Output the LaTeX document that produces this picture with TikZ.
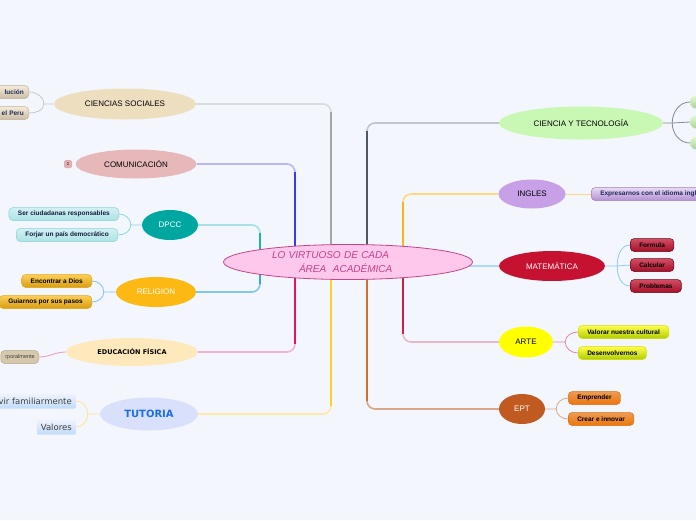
\documentclass[tikz,border=0pt]{standalone}
\usepackage{fontspec}
\setmainfont{Liberation Sans}
\newfontfamily\verdanaish{DejaVu Sans}
\usetikzlibrary{shapes.geometric,calc}

\definecolor{paper}{HTML}{F3F6FD}
\definecolor{hubfill}{HTML}{FDC8EC}
\definecolor{hubline}{HTML}{C0468C}
\definecolor{hubtext}{HTML}{C4408C}
\definecolor{csfill}{HTML}{EEDEC0}
\definecolor{cshi}{HTML}{A0A6A0}
\definecolor{cslo}{HTML}{D8DCDE}
\definecolor{comfill}{HTML}{E6B8BA}
\definecolor{comhi}{HTML}{3A3AF0}
\definecolor{comlo}{HTML}{B8B8F8}
\definecolor{dpccfill}{HTML}{00A6A0}
\definecolor{dpcchi}{HTML}{20B0B0}
\definecolor{dpcclo}{HTML}{A8E0E8}
\definecolor{relfill}{HTML}{FDB913}
\definecolor{relhi}{HTML}{30A8E8}
\definecolor{rello}{HTML}{80C6F0}
\definecolor{effill}{HTML}{FFE9BC}
\definecolor{efhi}{HTML}{E0185A}
\definecolor{eflo}{HTML}{F4B4D0}
\definecolor{tutfill}{HTML}{D8E0FC}
\definecolor{tuttext}{HTML}{1C6EE8}
\definecolor{tuthi}{HTML}{FFD020}
\definecolor{tutlo}{HTML}{FFE8A8}
\definecolor{ctfill}{HTML}{C8F8B4}
\definecolor{cthi}{HTML}{505860}
\definecolor{ctlo}{HTML}{C0C4CC}
\definecolor{ingfill}{HTML}{C8A0E8}
\definecolor{inghi}{HTML}{FFB020}
\definecolor{inglo}{HTML}{FFD880}
\definecolor{matfill}{HTML}{C41230}
\definecolor{matlo}{HTML}{B0D8F8}
\definecolor{artefill}{HTML}{FFFF00}
\definecolor{artehi}{HTML}{D02040}
\definecolor{artelo}{HTML}{E8B8C8}
\definecolor{eptfill}{HTML}{C05A20}
\definecolor{epthi}{HTML}{D07030}
\definecolor{eptlo}{HTML}{D8A888}
\definecolor{navy}{HTML}{1C2A5A}
\definecolor{badge}{HTML}{E0AEB2}

\pgfdeclarelayer{ground}
\pgfdeclarelayer{links}
\pgfsetlayers{ground,links,main}

\begin{document}
\begin{tikzpicture}[x=1pt, y=-1pt,
  topic/.style={ellipse, inner sep=0pt, font=\fontsize{8}{9}\selectfont},
  leaf/.style={rounded corners=4pt, minimum height=13pt, inner xsep=9pt, inner ysep=0pt, line width=0.5pt, font=\bfseries\fontsize{6.5}{7.5}\selectfont},
  link/.style={line width=1.6pt, rounded corners=8pt},
  twig/.style={line width=0.8pt}]
\begin{pgfonlayer}{ground}
  \fill[paper] (0,0) rectangle (696,520);
\end{pgfonlayer}
\useasboundingbox (0,0) rectangle (696,520);

% centre
\node[ellipse, draw=hubline, line width=0.8pt, fill=hubfill, minimum width=249pt, minimum height=35pt, inner sep=0pt,
  text width=152pt, align=left, text=hubtext, font=\itshape\fontsize{10}{13.5}\selectfont] (hub) at (348,262)
  {LO VIRTUOSO DE CADA\\\hspace*{27pt}ÁREA\ \ ACADÉMICA};

% left topics
\node[topic, fill=csfill, minimum width=142pt, minimum height=31pt] (cs) at (125,104) {CIENCIAS SOCIALES};
\node[topic, fill=comfill, minimum width=121pt, minimum height=29pt] (com) at (136,164) {COMUNICACIÓN};
\node[topic, fill=dpccfill, text=white, minimum width=56pt, minimum height=30pt] (dpcc) at (170,225) {DPCC};
\node[topic, fill=relfill, text=white, minimum width=80pt, minimum height=30pt] (rel) at (156,292) {RELIGION};
\node[topic, fill=effill, minimum width=132pt, minimum height=28pt, font=\verdanaish\bfseries\fontsize{6.5}{8}\selectfont] (ef) at (132,352) {EDUCACIÓN FÍSICA};
\node[topic, fill=tutfill, text=tuttext, minimum width=98pt, minimum height=33pt, font=\verdanaish\bfseries\fontsize{10}{12}\selectfont] (tut) at (149,414) {TUTORIA};

% right topics
\node[topic, fill=ctfill, minimum width=164pt, minimum height=33pt] (ct) at (581,123) {CIENCIA Y TECNOLOGÍA};
\node[topic, fill=ingfill, minimum width=67pt, minimum height=29pt] (ing) at (532,194) {INGLES};
\node[topic, fill=matfill, text=white, minimum width=106pt, minimum height=30pt] (mat) at (552,266) {MATEMÁTICA};
\node[topic, fill=artefill, minimum width=54pt, minimum height=31pt] (arte) at (526,342) {ARTE};
\node[topic, fill=eptfill, text=white, minimum width=46pt, minimum height=30pt] (ept) at (522,409) {EPT};

% left leaves
\node[leaf, top color=csfill!60!white, bottom color=csfill!85!black, draw=csfill!80!black, text=navy, anchor=east, text width=36pt, inner xsep=5pt, align=right] (cs1) at (29,92) {lución};
\node[leaf, top color=csfill!60!white, bottom color=csfill!85!black, draw=csfill!80!black, text=navy, anchor=east, text width=36pt, inner xsep=5pt, align=right] (cs2) at (29,113) {el Peru};
\node[fill=badge, rounded corners=1.5pt, inner sep=0pt, minimum width=8pt, minimum height=8pt, font=\fontsize{4}{4}\selectfont] (badge) at (68,164) {2};
\node[leaf, top color=dpcclo!50!white, bottom color=dpcclo!70!dpccfill!60, draw=dpcclo!80!dpccfill, text=navy!70!black, anchor=east] (dp1) at (119,214) {Ser ciudadanas responsables};
\node[leaf, top color=dpcclo!50!white, bottom color=dpcclo!70!dpccfill!60, draw=dpcclo!80!dpccfill, text=navy!70!black, anchor=east] (dp2) at (118,235) {Forjar un país democrático};
\node[leaf, top color=relfill!70!white, bottom color=relfill!85!black, draw=relfill!90!black, anchor=east] (re1) at (92,281) {Encontrar a Dios};
\node[leaf, top color=relfill!70!white, bottom color=relfill!85!black, draw=relfill!90!black, anchor=east] (re2) at (92,302) {Guiarnos por sus pasos};
\node[leaf, fill=csfill!90!black, draw=csfill!75!black, anchor=east, text width=30pt, align=right, inner xsep=4pt, text=black!75, font=\fontsize{5.5}{6}\selectfont] (ef1) at (39,357) {rporalmente};
\node[leaf, rounded corners=1pt, top color=tutfill!40!white, bottom color=matlo!60!tutfill, minimum height=15pt, inner xsep=4pt, text=black!75, anchor=east, font=\verdanaish\fontsize{8.5}{9}\selectfont] (tu1) at (76,401) {vir familiarmente};
\node[leaf, rounded corners=1pt, top color=tutfill!40!white, bottom color=matlo!60!tutfill, minimum height=15pt, inner xsep=4pt, text=black!75, anchor=east, font=\verdanaish\fontsize{8.5}{9}\selectfont] (tu2) at (76,427) {Valores};

% right leaves
\node[leaf, rounded corners=6pt, top color=ctfill!60!white, bottom color=ctfill!85!black, minimum width=20pt, anchor=west] (ct1) at (690,102) {};
\node[leaf, rounded corners=6pt, top color=ctfill!60!white, bottom color=ctfill!85!black, minimum width=20pt, anchor=west] (ct2) at (690,122) {};
\node[leaf, rounded corners=6pt, top color=ctfill!60!white, bottom color=ctfill!85!black, minimum width=20pt, anchor=west] (ct3) at (690,143) {};
\node[leaf, top color=ingfill!40!white, bottom color=ingfill!90!black, draw=ingfill!80!black, text=navy, anchor=west] (in1) at (591,194) {Expresarnos con el idioma ingl};
\node[leaf, top color=matfill!75!white, bottom color=matfill!85!black, draw=matfill!50!black, anchor=west] (ma1) at (630,245) {Formula};
\node[leaf, top color=matfill!75!white, bottom color=matfill!85!black, draw=matfill!50!black, anchor=west] (ma2) at (630,265) {Calcular};
\node[leaf, top color=matfill!75!white, bottom color=matfill!85!black, draw=matfill!50!black, anchor=west] (ma3) at (630,286) {Problemas};
\node[leaf, top color=artefill!70!white, bottom color=artefill!85!green!80!black, draw=artefill!85!black, anchor=west] (ar1) at (578,332) {Valorar nuestra cultural};
\node[leaf, top color=artefill!70!white, bottom color=artefill!85!green!80!black, draw=artefill!85!black, anchor=west] (ar2) at (578,353) {Desenvolvernos};
\node[leaf, top color=eptfill!40!orange!70!white, bottom color=eptfill!30!orange, draw=eptfill!50!orange, anchor=west] (ep1) at (568,398) {Emprender};
\node[leaf, top color=eptfill!40!orange!70!white, bottom color=eptfill!30!orange, draw=eptfill!50!orange, anchor=west] (ep2) at (568,419) {Crear e innovar};

\begin{pgfonlayer}{links}
% trunks
\coordinate (l1) at ($(hub)+(-17,0)$);
\coordinate (l2) at ($(hub)+(-53,0)$);
\coordinate (l3) at ($(hub)+(-88,0)$);
\coordinate (r1) at ($(hub)+(19,0)$);
\coordinate (r2) at ($(hub)+(55,0)$);
\draw[link, cslo] (l1) |- (cs.east);
\draw[link, cshi, shorten >=8pt] (l1) -- (l1 |- cs.east);
\draw[link, tutlo] (l1) |- (tut.east);
\draw[link, tuthi, shorten >=8pt] (l1) -- (l1 |- tut.east);
\draw[link, comlo] (l2) |- (com.east);
\draw[link, comhi, shorten >=8pt] (l2) -- (l2 |- com.east);
\draw[link, eflo] (l2) |- (ef.east);
\draw[link, efhi, shorten >=8pt] (l2) -- (l2 |- ef.east);
\draw[link, dpcclo] (l3) |- (dpcc.east);
\draw[link, dpcchi, shorten >=8pt] (l3) -- (l3 |- dpcc.east);
\draw[link, rello] (l3) |- (rel.east);
\draw[link, relhi, shorten >=8pt] (l3) -- (l3 |- rel.east);
\draw[link, ctlo] (r1) |- (ct.west);
\draw[link, cthi, shorten >=8pt] (r1) -- (r1 |- ct.west);
\draw[link, eptlo] (r1) |- (ept.west);
\draw[link, epthi, shorten >=8pt] (r1) -- (r1 |- ept.west);
\draw[link, inglo] (r2) |- (ing.west);
\draw[link, inghi, shorten >=8pt] (r2) -- (r2 |- ing.west);
\draw[link, artelo] (r2) |- (arte.west);
\draw[link, artehi, shorten >=8pt] (r2) -- (r2 |- arte.west);
\draw[link, matlo] (hub.center |- mat.west) -- (mat.west);

% twigs
\coordinate (csj) at ($(cs.west)+(-10,0)$);
\draw[twig, cshi!60] (cs.west) -- (csj) to[out=90, in=0] (cs1.east);
\draw[twig, cshi!60] (csj) to[out=-90, in=0] (cs2.east);
\coordinate (dpj) at ($(dpcc.west)+(-11,0)$);
\draw[twig, dpcclo!80!dpcchi] (dpcc.west) -- (dpj) to[out=90, in=0] (dp1.east);
\draw[twig, dpcclo!80!dpcchi] (dpj) to[out=-90, in=0] (dp2.east);
\coordinate (rej) at ($(rel.west)+(-12,0)$);
\draw[twig, rello] (rel.west) -- (rej) to[out=90, in=0] (re1.east);
\draw[twig, rello] (rej) to[out=-90, in=0] (re2.east);
\draw[twig, eflo!80!efhi] (ef1.east) to[out=0, in=180] (ef.west);
\coordinate (tuj) at ($(tut.west)+(-12,0)$);
\draw[twig, tutlo!80!tuthi] (tut.west) -- (tuj) to[out=90, in=0] (tu1.east);
\draw[twig, tutlo!80!tuthi] (tuj) to[out=-90, in=0] (tu2.east);
\coordinate (ctj) at ($(ct.east)+(9,0)$);
\draw[twig, cthi!70] (ct.east) -- (ctj) to[out=90, in=180] (ct1.west);
\draw[twig, cthi!70] (ctj) -- (ct2.west);
\draw[twig, cthi!70] (ctj) to[out=-90, in=180] (ct3.west);
\draw[twig, inglo] (ing.east) -- (in1.west);
\coordinate (maj) at ($(mat.east)+(12,0)$);
\draw[twig, matlo!70!relhi] (mat.east) -- (maj) to[out=90, in=180] (ma1.west);
\draw[twig, matlo!70!relhi] (maj) -- (ma2.west);
\draw[twig, matlo!70!relhi] (maj) to[out=-90, in=180] (ma3.west);
\coordinate (arj) at ($(arte.east)+(12,0)$);
\draw[twig, artelo!70!artehi] (arte.east) -- (arj) to[out=90, in=180] (ar1.west);
\draw[twig, artelo!70!artehi] (arj) to[out=-90, in=180] (ar2.west);
\coordinate (epj) at ($(ept.east)+(11,0)$);
\draw[twig, eptlo] (ept.east) -- (epj) to[out=90, in=180] (ep1.west);
\draw[twig, eptlo] (epj) to[out=-90, in=180] (ep2.west);
\end{pgfonlayer}
\end{tikzpicture}
\end{document}
